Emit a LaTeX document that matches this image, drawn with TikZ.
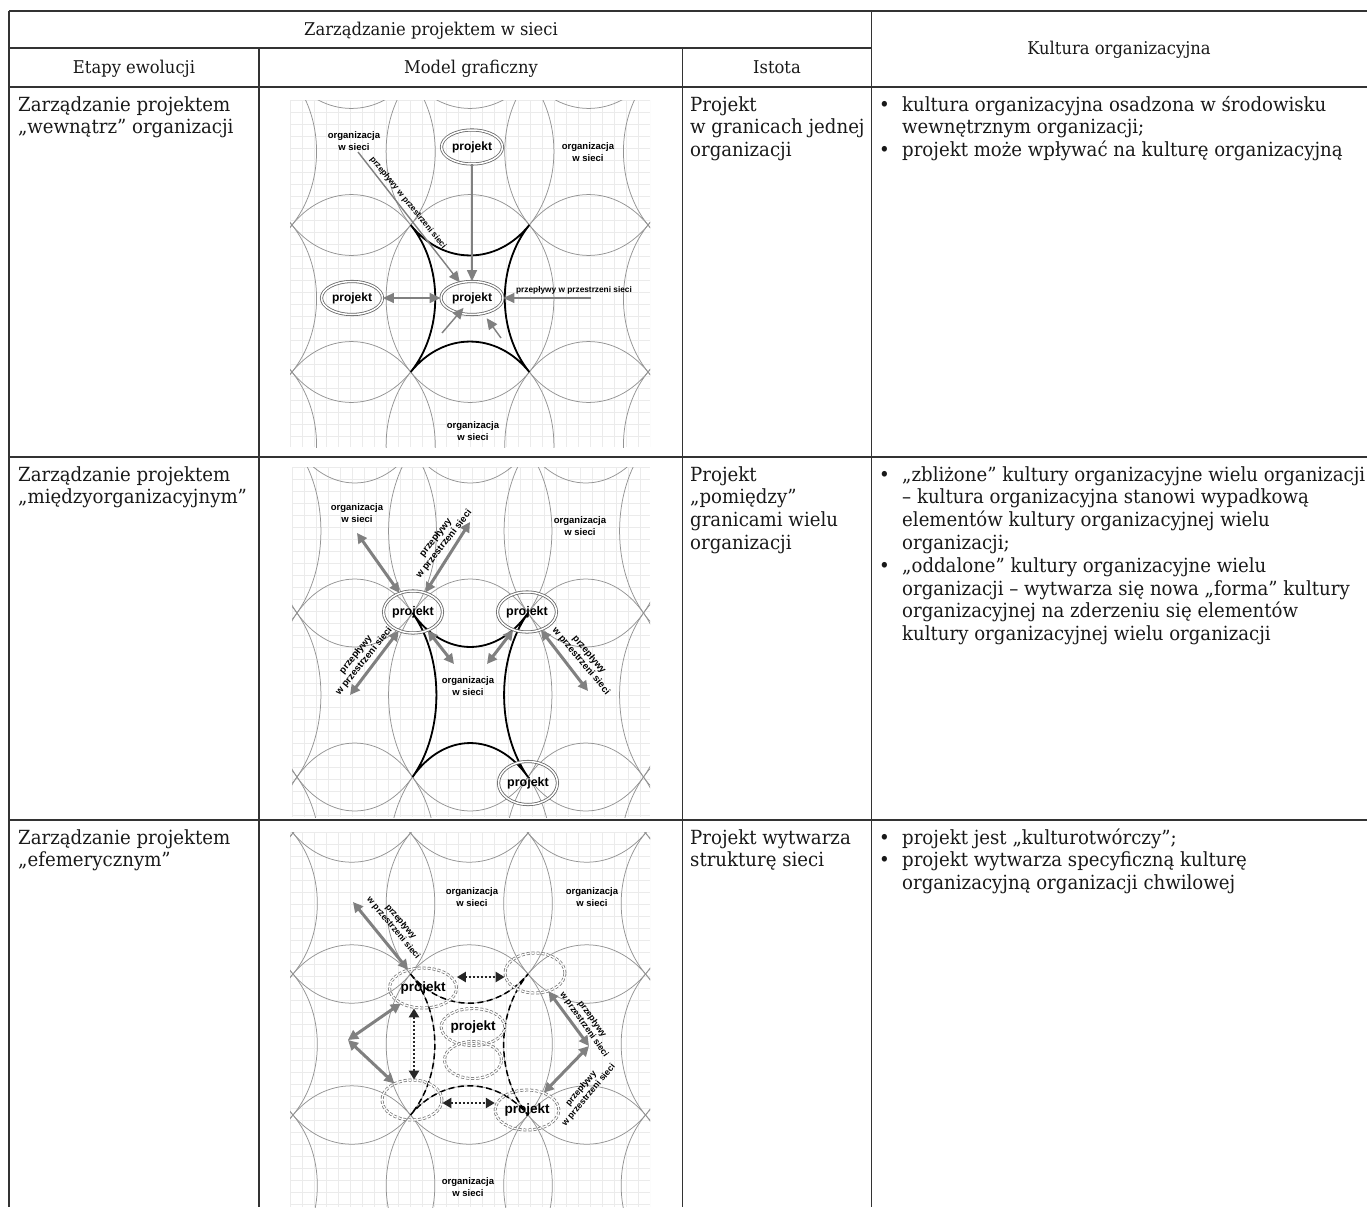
\documentclass[tikz,border=0pt]{standalone}
\usepackage{fontspec}
\setmainfont{DejaVu Serif}[FakeStretch=0.93]
\newfontfamily\dfont{Liberation Sans}
\usetikzlibrary{arrows.meta,shapes.geometric,calc}
\tikzset{
  body/.style={font=\fontsize{19.5}{22.8}\selectfont, inner sep=0pt, anchor=base west, text=black!90},
  head/.style={font=\fontsize{17.6}{20}\selectfont, inner sep=0pt, anchor=base, text=black!90},
  rul/.style={line width=1.3pt, draw=black!80},
  pat/.style={draw=black!42, line width=0.75pt},
  gridl/.style={draw=black!8, line width=0.5pt},
  org/.style={font=\dfont\bfseries\fontsize{9.5}{12}\selectfont, align=center, inner sep=0pt},
  proj/.style={ellipse, draw=black!60, double=white, double distance=1.5pt, line width=0.8pt, inner sep=0pt, font=\dfont\bfseries\fontsize{12}{13}\selectfont},
  flow/.style={font=\dfont\bfseries\fontsize{8.3}{9.3}\selectfont, align=center, inner sep=0pt},
  thinarr/.style={draw=black!50, line width=1.4pt, -{Triangle[length=11pt,width=10pt]}},
  thinbi/.style={draw=black!50, line width=1.4pt, {Triangle[length=11pt,width=10pt]}-{Triangle[length=11pt,width=10pt]}},
  thickbi/.style={draw=black!50, line width=3pt, {Triangle[length=10pt,width=10pt]}-{Triangle[length=10pt,width=10pt]}},
  blk/.style={draw=black, line width=1.8pt},
  blkdash/.style={draw=black, line width=1.5pt, dash pattern=on 6pt off 3.5pt},
  dproj/.style={ellipse, draw=black!55, double=white, double distance=1.4pt, line width=0.75pt, dash pattern=on 3pt off 2pt, inner sep=0pt, font=\dfont\bfseries\fontsize{13.5}{14}\selectfont},
  dotbi/.style={draw=black!85, line width=2.6pt, dash pattern=on 2pt off 2pt, {Triangle[length=9pt,width=10pt]}-{Triangle[length=9pt,width=10pt]}},
}
\begin{document}
\begin{tikzpicture}[x=1pt,y=-1pt]
\useasboundingbox (0,0) rectangle (1367,1207);
\fill[white] (0,0) rectangle (1367,1207);

% ================= Diagram 1 =================
\begin{scope}
\clip (290,100) rectangle (650,447);
\foreach \x in {290,302,...,650} \draw[gridl] (\x,100) -- (\x,447);
\foreach \y in {100,112,...,447} \draw[gridl] (290,\y) -- (650,\y);
\foreach \i in {-1,...,3} \foreach \j in {-1,...,3}
  \draw[pat] ({292+118.67*(\i+0.5)},{78+147*(\j+0.5)}) ellipse[x radius=83.91, y radius=103.94];
\end{scope}
\draw[blk] (410.67,225) arc[start angle=135,end angle=45,x radius=83.91,y radius=103.94]
  arc[start angle=225,end angle=135,x radius=83.91,y radius=103.94]
  arc[start angle=315,end angle=225,x radius=83.91,y radius=103.94]
  arc[start angle=45,end angle=-45,x radius=83.91,y radius=103.94] -- cycle;
\node[org] (O1a) at (354,141) {organizacja\\w sieci};
\node[org] (O1b) at (588,152) {organizacja\\w sieci};
\node[org] (O1c) at (473,431) {organizacja\\w sieci};
\node[proj, minimum width=61pt, minimum height=34pt] (P1top) at (472,147) {projekt};
\node[proj, minimum width=61pt, minimum height=33pt] (P1left) at (352,298) {projekt};
\node[proj, minimum width=62pt, minimum height=33pt] (P1c) at (472,298) {projekt};
\coordinate (c1R) at (591,298);
\coordinate (c1D) at (358,152);
\coordinate (c1S1) at (442,333);
\coordinate (c1S2) at (501,338);
\draw[thinarr] (P1top) -- (P1c);
\draw[thinbi] (P1left) -- (P1c);
\draw[thinarr] (c1R) -- (P1c);
\draw[thinarr] (c1D) -- (P1c);
\draw[thinarr, shorten >=13pt] (c1S1) -- (P1c.center);
\draw[thinarr, shorten >=25pt] (c1S2) -- (P1c.center);
\node[flow, rotate=-51] (F1a) at (408,203) {przepływy w przestrzeni sieci};
\node[flow] (F1b) at (574,290) {przepływy w przestrzeni sieci};

% ================= Diagram 2 =================
\begin{scope}
\clip (292,467) rectangle (650,817);
\foreach \x in {292,304,...,650} \draw[gridl] (\x,467) -- (\x,817);
\foreach \y in {467,479,...,817} \draw[gridl] (292,\y) -- (650,\y);
\foreach \i in {-1,...,3} \foreach \j in {-1,...,3}
  \draw[pat] ({297+115.5*(\i+0.5)},{449+164*(\j+0.5)}) ellipse[x radius=81.67, y radius=115.97];
\end{scope}
\draw[blk] (412.5,613) arc[start angle=135,end angle=45,x radius=81.67,y radius=115.97]
  arc[start angle=225,end angle=135,x radius=81.67,y radius=115.97]
  arc[start angle=315,end angle=225,x radius=81.67,y radius=115.97]
  arc[start angle=45,end angle=-45,x radius=81.67,y radius=115.97] -- cycle;
\node[org] (O2a) at (357,513) {organizacja\\w sieci};
\node[org] (O2b) at (580,526) {organizacja\\w sieci};
\node[org] (O2c) at (468,686) {organizacja\\w sieci};
\node[proj, minimum width=53pt, minimum height=42pt, font=\dfont\bfseries\fontsize{12.5}{13}\selectfont] (P2a) at (413,612) {projekt};
\node[proj, minimum width=48pt, minimum height=40pt, font=\dfont\bfseries\fontsize{12.5}{13}\selectfont] (P2b) at (527,612) {projekt};
\node[proj, minimum width=55pt, minimum height=43pt, font=\dfont\bfseries\fontsize{12.5}{13}\selectfont] (P2c) at (528,783) {projekt};
\coordinate (a2A) at (357,533);
\coordinate (a2B) at (470,522);
\coordinate (a2C) at (350,695);
\coordinate (a2D) at (454,664);
\coordinate (a2E) at (487,664);
\coordinate (a2F) at (588,691);
\draw[thickbi] (a2A) -- (P2a);
\draw[thickbi] (P2a) -- (a2B);
\draw[thickbi] (P2a) -- (a2C);
\draw[thickbi] (P2a) -- (a2D);
\draw[thickbi] (P2b) -- (a2E);
\draw[thickbi] (P2b) -- (a2F);
\node[flow, rotate=52, font=\dfont\bfseries\fontsize{9.5}{10.5}\selectfont] (F2a) at (440,541) {przepływy\\w przestrzeni sieci};
\node[flow, rotate=51, font=\dfont\bfseries\fontsize{9.5}{10.5}\selectfont] (F2b) at (360,658) {przepływy\\w przestrzeni sieci};
\node[flow, rotate=-50, font=\dfont\bfseries\fontsize{9.5}{10.5}\selectfont] (F2c) at (585,658) {przepływy\\w przestrzeni sieci};

% ================= Diagram 3 =================
\begin{scope}
\clip (290,832) rectangle (650,1207);
\foreach \x in {290,302,...,650} \draw[gridl] (\x,832) -- (\x,1207);
\foreach \y in {832,844,...,1207} \draw[gridl] (290,\y) -- (650,\y);
\foreach \i in {-1,...,3} \foreach \j in {-1,...,3}
  \draw[pat] ({293+117.5*(\i+0.5)},{833+141*(\j+0.5)}) ellipse[x radius=83.09, y radius=99.70];
\end{scope}
\draw[blkdash] (410.5,974) arc[start angle=135,end angle=45,x radius=83.09,y radius=99.70]
  arc[start angle=225,end angle=135,x radius=83.09,y radius=99.70]
  arc[start angle=315,end angle=225,x radius=83.09,y radius=99.70]
  arc[start angle=45,end angle=-45,x radius=83.09,y radius=99.70] -- cycle;
\node[org] (O3a) at (472,897) {organizacja\\w sieci};
\node[org] (O3b) at (592,897) {organizacja\\w sieci};
\node[org] (O3c) at (468,1187) {organizacja\\w sieci};
\node[dproj, minimum width=67pt, minimum height=40pt] (E1) at (423,988) {projekt};
\node[dproj, minimum width=60pt, minimum height=40pt] (E2) at (535,973) {};
\node[dproj, minimum width=55pt, minimum height=37pt] (E3) at (473,1027) {projekt};
\node[dproj, minimum width=57pt, minimum height=37pt] (E4) at (473,1060) {};
\node[dproj, minimum width=60pt, minimum height=40pt] (E5) at (412,1100) {};
\node[dproj, minimum width=57pt, minimum height=40pt] (E6) at (527,1110) {projekt};
\coordinate (a3A) at (353,902);
\coordinate (a3L) at (348,1040);
\coordinate (a3R) at (589,1046);
\draw[thickbi] (a3A) -- (E1);
\draw[thickbi] (E1) -- (a3L);
\draw[thickbi] (a3L) -- (E5);
\draw[thickbi] (E2) -- (a3R);
\draw[thickbi] (a3R) -- (E6);
\draw[dotbi] (E1.east |- 0,977) -- (E2.west |- 0,977);
\draw[dotbi] (E1.south -| 414,0) -- (E5.north -| 414,0);
\draw[dotbi] (E5.east |- 0,1103) -- (E6.west |- 0,1103);
\node[flow, rotate=-50, font=\dfont\bfseries\fontsize{8.8}{9.8}\selectfont] (F3a) at (397,925) {przepływy\\w przestrzeni sieci};
\node[flow, rotate=-55, font=\dfont\bfseries\fontsize{8.8}{9.8}\selectfont] (F3b) at (588,1022) {przepływy\\w przestrzeni sieci};
\node[flow, rotate=50, font=\dfont\bfseries\fontsize{8.8}{9.8}\selectfont] (F3c) at (585,1092) {przepływy\\w przestrzeni sieci};

% ================= Table rules =================
\draw[rul] (9,11) -- (1367,11);
\draw[rul] (9,48) -- (871.5,48);
\draw[rul] (9,87) -- (1367,87);
\draw[rul] (9,457) -- (1367,457);
\draw[rul] (9,820) -- (1367,820);
\draw[rul] (9,11) -- (9,1207);
\draw[rul] (259,48) -- (259,1207);
\draw[rul] (682.7,48) -- (682.7,1207);
\draw[rul] (871.5,11) -- (871.5,1207);

% ================= Headers =================
\node[head] (h1) at (431,36) {Zarządzanie projektem w sieci};
\node[head] (h2) at (134,74) {Etapy ewolucji};
\node[head] (h3) at (471,74) {Model graficzny};
\node[head] (h4) at (777,74) {Istota};
\node[head] (h5) at (1119,55) {Kultura organizacyjna};

% ================= Row 1 =================
\node[body] (r1a1) at (18,111) {Zarządzanie projektem};
\node[body] (r1a2) at (18,133.8) {„wewnątrz” organizacji};
\node[body] (r1c1) at (690,111) {Projekt};
\node[body] (r1c2) at (690,133.8) {w granicach jednej};
\node[body] (r1c3) at (690,156.6) {organizacji};
\node[body] (r1b1) at (879,111) {•};
\node[body] (r1d1) at (902,111) {kultura organizacyjna osadzona w środowisku};
\node[body] (r1d2) at (902,133.8) {wewnętrznym organizacji;};
\node[body] (r1b2) at (879,156.6) {•};
\node[body] (r1d3) at (902,156.6) {projekt może wpływać na kulturę organizacyjną};

% ================= Row 2 =================
\node[body] (r2a1) at (18,481) {Zarządzanie projektem};
\node[body] (r2a2) at (18,503.8) {„międzyorganizacyjnym”};
\node[body] (r2c1) at (690,481) {Projekt};
\node[body] (r2c2) at (690,503.8) {„pomiędzy”};
\node[body] (r2c3) at (690,526.6) {granicami wielu};
\node[body] (r2c4) at (690,549.4) {organizacji};
\node[body] (r2b1) at (879,481) {•};
\node[body] (r2d1) at (902,481) {„zbliżone” kultury organizacyjne wielu organizacji};
\node[body] (r2d2) at (902,503.8) {– kultura organizacyjna stanowi wypadkową};
\node[body] (r2d3) at (902,526.6) {elementów kultury organizacyjnej wielu};
\node[body] (r2d4) at (902,549.4) {organizacji;};
\node[body] (r2b2) at (879,572.2) {•};
\node[body] (r2d5) at (902,572.2) {„oddalone” kultury organizacyjne wielu};
\node[body] (r2d6) at (902,595) {organizacji – wytwarza się nowa „forma” kultury};
\node[body] (r2d7) at (902,617.8) {organizacyjnej na zderzeniu się elementów};
\node[body] (r2d8) at (902,640.6) {kultury organizacyjnej wielu organizacji};

% ================= Row 3 =================
\node[body] (r3a1) at (18,844) {Zarządzanie projektem};
\node[body] (r3a2) at (18,866.8) {„efemerycznym”};
\node[body] (r3c1) at (690,844) {Projekt wytwarza};
\node[body] (r3c2) at (690,866.8) {strukturę sieci};
\node[body] (r3b1) at (879,844) {•};
\node[body] (r3d1) at (902,844) {projekt jest „kulturotwórczy”;};
\node[body] (r3b2) at (879,866.8) {•};
\node[body] (r3d2) at (902,866.8) {projekt wytwarza specyficzną kulturę};
\node[body] (r3d3) at (902,889.6) {organizacyjną organizacji chwilowej};
\end{tikzpicture}
\end{document}
